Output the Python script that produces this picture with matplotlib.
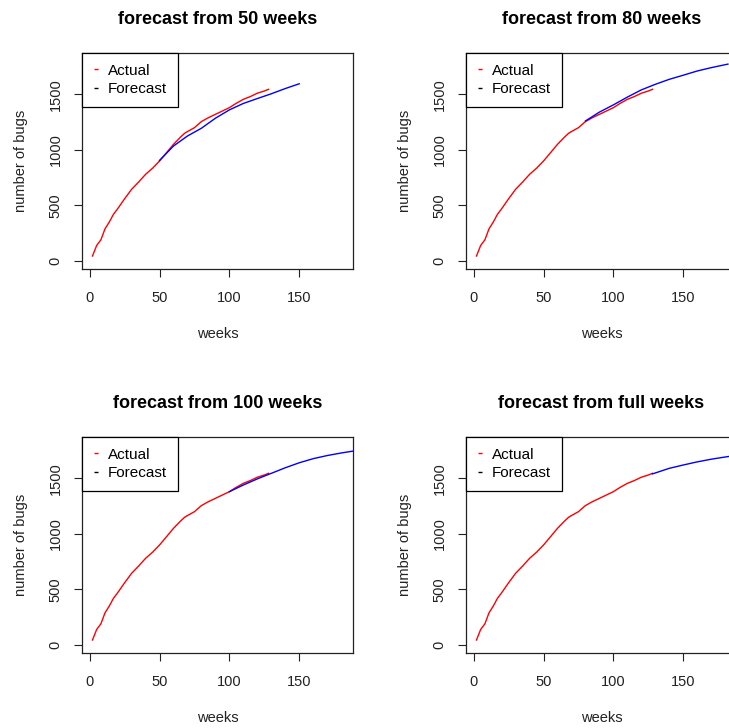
import numpy as np
import matplotlib
matplotlib.use("Agg")
import matplotlib.pyplot as plt
from matplotlib.lines import Line2D

plt.rcParams['font.family'] = ['Liberation Sans', 'DejaVu Sans']

# actual cumulative bug counts
actual_weeks = [2, 5, 8, 11, 14, 17, 20, 25, 30, 35, 40, 45, 50, 55, 60, 65, 68,
                70, 75, 80, 85, 90, 95, 100, 105, 110, 115, 120, 125, 128]
actual_bugs = [45, 140, 190, 290, 350, 420, 470, 560, 645, 710, 780, 835, 900,
               975, 1050, 1115, 1150, 1165, 1200, 1255, 1290, 1320, 1350, 1380,
               1420, 1455, 1480, 1510, 1530, 1545]

# forecasts from different starting points
f50_weeks = [50, 60, 70, 80, 90, 100, 110, 120, 130, 140, 150]
f50_bugs = [905, 1035, 1125, 1195, 1285, 1360, 1418, 1462, 1505, 1552, 1595]

f80_weeks = [80, 90, 100, 110, 120, 130, 140, 150, 160, 170, 182]
f80_bugs = [1260, 1340, 1405, 1475, 1540, 1590, 1635, 1672, 1710, 1740, 1772]

f100_weeks = [100, 110, 120, 130, 140, 150, 160, 170, 180, 190]
f100_bugs = [1380, 1440, 1495, 1545, 1595, 1640, 1677, 1705, 1728, 1748]

ffull_weeks = [128, 140, 150, 160, 170, 180, 190]
ffull_bugs = [1540, 1590, 1620, 1648, 1672, 1692, 1710]

titles = ['forecast from 50 weeks', 'forecast from 80 weeks',
          'forecast from 100 weeks', 'forecast from full weeks']
forecasts = [(f50_weeks, f50_bugs), (f80_weeks, f80_bugs),
             (f100_weeks, f100_bugs), (ffull_weeks, ffull_bugs)]

W, H = 729, 728
fig = plt.figure(figsize=(W / 100, H / 100), dpi=100)

# axes boxes in pixels: left, top
boxes = [(82, 53), (466, 53), (82, 437), (466, 437)]
bw, bh = 271, 216

ink = '#222222'
for i in range(4):
    left, top = boxes[i]
    ax = fig.add_axes([left / W, (H - top - bh) / H, bw / W, bh / H])
    fw, fb = forecasts[i]
    ax.plot(actual_weeks, actual_bugs, color='red', lw=1)
    ax.plot(fw, fb, color='blue', lw=1)
    ax.set_xlim(-5.5, 188.5)
    ax.set_ylim(-72, 1872)
    ax.set_xticks([0, 50, 100, 150])
    ax.set_yticks([0, 500, 1000, 1500])
    ax.tick_params(length=6, width=0.8, labelsize=10.5, colors=ink)
    ax.tick_params(axis='x', pad=10)
    ax.tick_params(axis='y', pad=8)
    for lab in ax.get_yticklabels():
        lab.set_rotation(90)
        lab.set_va('center')
    for s in ax.spines.values():
        s.set_color(ink)
        s.set_linewidth(0.9)
    ax.set_title(titles[i], fontsize=13, fontweight='bold', pad=21)
    ax.set_xlabel('weeks', fontsize=10.5, labelpad=16, color=ink)
    ax.set_ylabel('number of bugs', fontsize=10.5, labelpad=15, color=ink)

    handles = [Line2D([], [], color='red', marker='_', ls='None', markersize=3),
               Line2D([], [], color='black', marker='_', ls='None', markersize=3)]
    leg = ax.legend(handles, ['Actual', 'Forecast'], loc='upper left',
                    bbox_to_anchor=(0, 1), borderaxespad=0, fancybox=False,
                    framealpha=1, edgecolor='black', fontsize=11,
                    handlelength=0.4, handletextpad=0.6, labelspacing=0.3,
                    borderpad=0.7)
    leg.get_frame().set_linewidth(0.9)

fig.savefig('out.png', dpi=100)
